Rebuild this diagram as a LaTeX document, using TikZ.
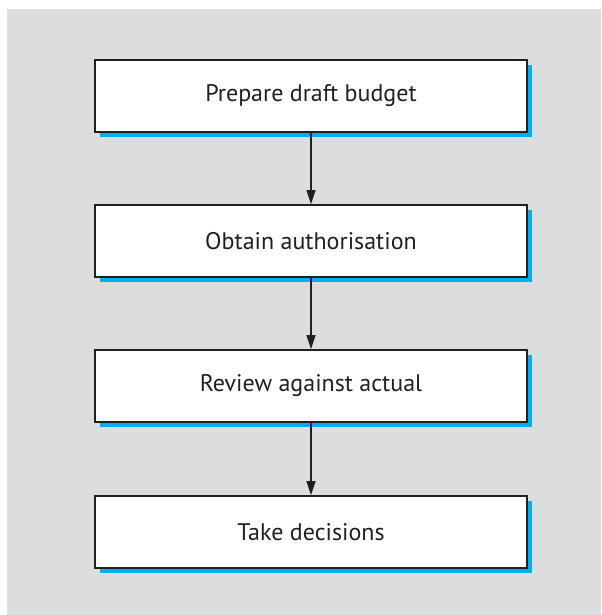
\documentclass[tikz,border=0pt]{standalone}
\usepackage{fontspec}
\setmainfont{PT Sans}
\usepackage{xcolor}
\usetikzlibrary{arrows.meta,shadows}

\definecolor{panelgrey}{RGB}{220,221,223}
\definecolor{shadowblue}{RGB}{0,174,239}
\definecolor{inkgrey}{RGB}{35,31,32}

\begin{document}
\begin{tikzpicture}[
    x=0.5pt, y=-0.5pt,
    stepbox/.style={draw=inkgrey, fill=white, line width=0.9pt,
                    minimum width=216pt, minimum height=36pt,
                    font=\fontsize{12}{14}\selectfont, text=inkgrey,
                    drop shadow={shadow xshift=2.5pt, shadow yshift=-2.5pt,
                                 fill=shadowblue, opacity=1}},
    flow/.style={draw=inkgrey, line width=0.6pt,
                 -{Triangle[length=7pt, width=4.5pt]}}
]

% ================================================================
%  Grey panel
% ================================================================
\useasboundingbox (0,0) rectangle (601,615);
\fill[panelgrey] (7,9) rectangle (601,615);

% ================================================================
%  Budget steps
% ================================================================
\def\xc{311}

\node[stepbox] (prep)   at (\xc, 96)  {Prepare draft budget};
\node[stepbox] (auth)   at (\xc, 241) {Obtain authorisation};
\node[stepbox] (review) at (\xc, 386) {Review against actual};
\node[stepbox] (decide) at (\xc, 532) {Take decisions};

% arrows between steps
\foreach \a/\b in {prep/auth, auth/review, review/decide} {
    \draw[flow] (\a.south) -- (\b.north);
}
\end{tikzpicture}
\end{document}
